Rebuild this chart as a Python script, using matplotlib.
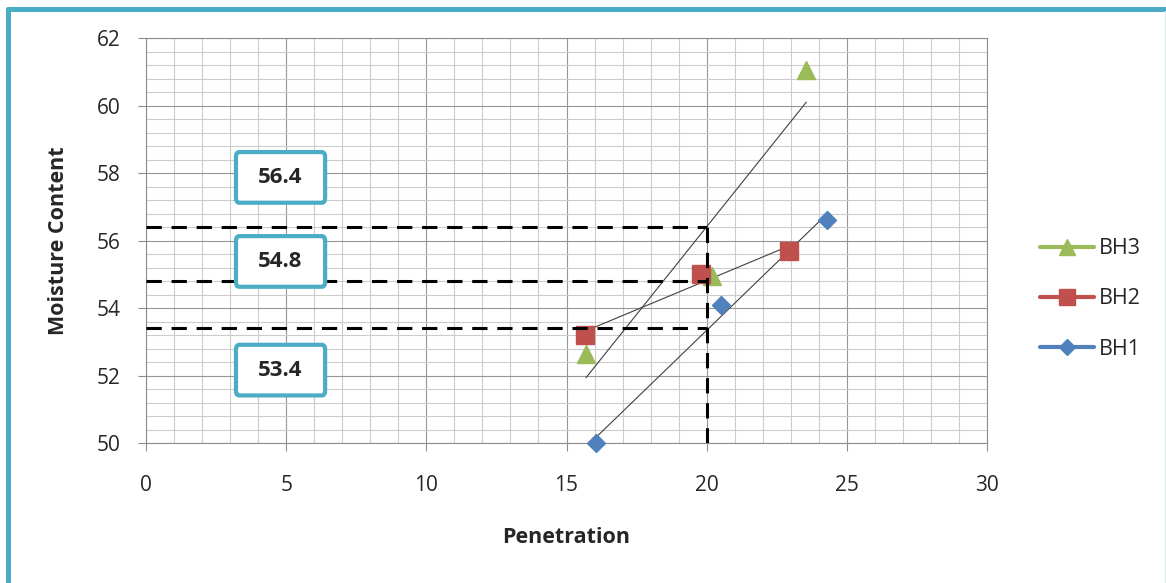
import numpy as np
import matplotlib
matplotlib.use("Agg")
import matplotlib.pyplot as plt
from matplotlib.lines import Line2D
from matplotlib.patches import FancyBboxPatch

plt.rcParams['font.family'] = ['Open Sans', 'DejaVu Sans']

# penetration vs moisture content for three boreholes
bh1_pen = [16.05, 20.5, 24.3]
bh1_mc = [50.0, 54.1, 56.6]
bh2_pen = [15.65, 19.8, 22.95]
bh2_mc = [53.2, 55.0, 55.7]
bh3_pen = [15.7, 20.2, 23.55]
bh3_mc = [52.65, 54.95, 61.05]

read_pen = 20
read_levels = [56.4, 54.8, 53.4]

series = [
    ("BH3", bh3_pen, bh3_mc, "#9BBB59", "^", 13.5),
    ("BH2", bh2_pen, bh2_mc, "#C0504D", "s", 13.5),
    ("BH1", bh1_pen, bh1_mc, "#4F81BD", "D", 9.0),
]

fig = plt.figure(figsize=(11.66, 5.83), dpi=100)
ax = fig.add_axes([0.1252, 0.2401, 0.7213, 0.6947])

ax.set_xlim(0, 30)
ax.set_ylim(50, 62)
ax.set_xticks(np.arange(0, 31, 5))
ax.set_xticks(np.arange(0, 31, 1), minor=True)
ax.set_yticks(np.arange(50, 63, 2))
ax.set_yticks(np.arange(50, 62.01, 0.4), minor=True)
ax.grid(which='minor', color='#cccccc', lw=0.8, zorder=0)
ax.grid(which='major', color='#969696', lw=0.8, zorder=0)
ax.set_axisbelow(True)
ax.tick_params(which='minor', length=0)
ax.tick_params(which='major', length=6, width=0.8, color='#8c8c8c',
               labelsize=15, labelcolor='#262626')
ax.tick_params(axis='y', pad=12)
ax.tick_params(axis='x', pad=17)
for side in ['left', 'bottom', 'top', 'right']:
    ax.spines[side].set_color('#8c8c8c')
    ax.spines[side].set_linewidth(0.8)

# points and linear trendlines
handles = []
for name, xs, ys, col, mk, ms in series:
    xs = np.array(xs)
    ys = np.array(ys)
    k, b = np.polyfit(xs, ys, 1)
    xx = np.array([xs.min(), xs.max()])
    ax.plot(xx, k * xx + b, color='#404040', lw=0.8, zorder=3)
    ax.plot(xs, ys, ls='none', marker=mk, ms=ms, color=col, mec=col,
            zorder=4, clip_on=False)
    handles.append(Line2D([], [], color=col, lw=3, marker=mk, ms=ms * 0.9,
                          solid_capstyle='round', label=name))

# dashed read-off lines
dash = dict(color='black', lw=2.2, ls=(0, (5, 3.2)), zorder=5)
for lv in read_levels:
    ax.plot([0, read_pen], [lv, lv], **dash)
ax.plot([read_pen, read_pen], [50, max(read_levels)], **dash)

# value boxes
box_y = [57.87, 55.38, 52.16]
for lv, cy in zip(read_levels, box_y):
    ax.add_patch(FancyBboxPatch((3.21, cy - 0.75), 3.18, 1.5,
                                boxstyle="round,pad=0,rounding_size=0.12",
                                mutation_aspect=1.2,
                                fc='white', ec='#4BACC6', lw=3, zorder=6))
    ax.text(4.8, cy, f"{lv}", ha='center', va='center', fontsize=16,
            fontweight='bold', color='#262626', zorder=7)

ax.set_xlabel("Penetration", fontsize=15.5, fontweight='bold', color='#262626',
              labelpad=22)
ax.set_ylabel("Moisture Content", fontsize=15.5, fontweight='bold',
              color='#262626', labelpad=20)

fig.legend(handles=handles, loc='upper left', bbox_to_anchor=(0.8825, 0.61),
           frameon=False, fontsize=15.5, handlelength=2.5, handletextpad=0.25,
           labelspacing=1.36, borderpad=0, labelcolor='#262626')

# teal frame along the top and left edge
fig.add_artist(Line2D([7.5 / 1166, 7.5 / 1166], [0, 1 - 8.5 / 583],
                      transform=fig.transFigure, color='#4BACC6', lw=3.6,
                      solid_capstyle='round'))
fig.add_artist(Line2D([7.5 / 1166, 1], [1 - 8.5 / 583, 1 - 8.5 / 583],
                      transform=fig.transFigure, color='#4BACC6', lw=3.6,
                      solid_capstyle='round'))
fig.add_artist(Line2D([1 - 1.5 / 1166, 1 - 1.5 / 1166], [0, 1 - 11 / 583],
                      transform=fig.transFigure, color='#dbe9f2', lw=0.8))

fig.savefig("out.png", dpi=100)
